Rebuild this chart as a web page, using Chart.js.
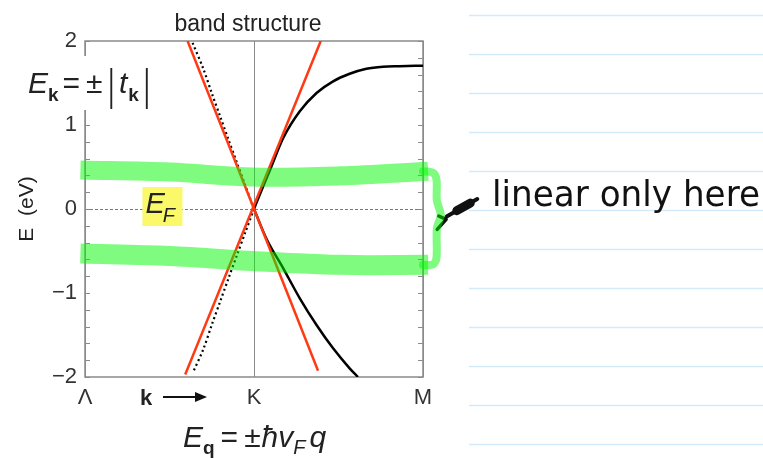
<!DOCTYPE html>
<html>
<head>
<meta charset="UTF-8">
<script src="https://cdn.jsdelivr.net/npm/chart.js@4.4.1/dist/chart.umd.min.js"></script>
<style>
  body { margin: 0; background: #fff; }
</style>
</head>
<body>
<canvas id="myChart" width="763" height="458"></canvas>
<script>
// k path: 0 = Λ, 1 = K, 2 = M ; energies in eV
const kLabels = ['Λ', 'K', 'M'];

// tight-binding bands along K -> M
const kCond = [1.0, 1.04, 1.094, 1.173, 1.271, 1.370, 1.468, 1.566, 1.665, 1.763, 1.861, 2.0];
const eCond = [0, 0.2, 0.46, 0.845, 1.163, 1.381, 1.52, 1.61, 1.67, 1.694, 1.70, 1.706];
const kVal = [1.0, 1.075, 1.173, 1.271, 1.370, 1.468, 1.566, 1.615];
const eVal = [0, -0.36, -0.706, -1.063, -1.381, -1.659, -1.897, -2.0];

// tight-binding bands along K -> Λ (dotted)
const kLeftUp = [1.0, 0.95, 0.9, 0.85, 0.8, 0.75, 0.7, 0.632];
const eLeftUp = [0, 0.27, 0.545, 0.82, 1.10, 1.38, 1.67, 2.0];
const kLeftDn = [1.0, 0.95, 0.9, 0.85, 0.8, 0.75, 0.7, 0.638];
const eLeftDn = [0, -0.27, -0.545, -0.82, -1.10, -1.38, -1.67, -1.95];

// linear Dirac cone
const kDiracA = [0.607, 1.379];
const eDiracA = [2.0, -1.925];
const kDiracB = [0.593, 1.395];
const eDiracB = [-1.97, 2.0];

// hand drawn highlighter + arrow
const hiK = [-0.027, 0.504, 0.994, 1.507, 2.03];
const hiTopE = [0.465, 0.44, 0.38, 0.395, 0.45];
const hiBotE = [-0.53, -0.56, -0.62, -0.665, -0.665];
const bracketK = [2.0, 2.06, 2.08, 2.082, 2.105, 2.082, 2.08, 2.06, 2.0];
const bracketE = [0.45, 0.43, 0.35, 0.1, -0.07, -0.23, -0.58, -0.66, -0.665];
const arrowK = [2.321, 2.14];
const arrowE = [0.119, -0.09];
const arrowBlobK = [2.28, 2.2];
const arrowBlobE = [0.07, -0.02];
const headK = [2.093, 2.137, 2.084];
const headE = [-0.083, -0.123, -0.242];

const pts = (xs, ys) => xs.map((x, i) => ({x: x, y: ys[i]}));

const RED = '#ff3a12';
const GREEN = 'rgba(0,250,0,0.5)';
const FRAME = '#8a8a8a';

function line(xs, ys, color, width, extra) {
    return Object.assign({
        data: pts(xs, ys),
        showLine: true,
        borderColor: color,
        borderWidth: width,
        pointRadius: 0,
        fill: false
    }, extra || {});
}

// draw a list of [text, font, dy, gap] runs side by side
function runs(ctx, x, y, parts) {
    parts.forEach(p => {
        ctx.font = p[1];
        ctx.fillText(p[0], x, y + (p[2] || 0));
        x += ctx.measureText(p[0]).width + (p[3] || 0);
    });
}

const decor = {
    id: 'decor',
    beforeDraw(chart) {
        const ctx = chart.ctx;
        ctx.save();
        ctx.fillStyle = '#fff';
        ctx.fillRect(0, 0, chart.width, chart.height);
        // notebook rules on the right
        ctx.strokeStyle = '#d2eafa';
        ctx.lineWidth = 1.5;
        for (let y = 15.5; y < chart.height; y += 39) {
            ctx.beginPath();
            ctx.moveTo(469, y);
            ctx.lineTo(chart.width, y);
            ctx.stroke();
        }
        ctx.restore();
    },
    beforeDatasetsDraw(chart) {
        const ctx = chart.ctx, a = chart.chartArea;
        const ys = chart.scales.y;
        ctx.save();
        // E = 0 dashed line
        ctx.strokeStyle = '#777';
        ctx.lineWidth = 1;
        ctx.setLineDash([3, 2]);
        const y0 = Math.round(ys.getPixelForValue(0)) + 0.5;
        ctx.beginPath();
        ctx.moveTo(a.left, y0);
        ctx.lineTo(a.right, y0);
        ctx.stroke();
        ctx.setLineDash([]);
        // frame
        ctx.strokeStyle = FRAME;
        ctx.lineWidth = 1.5;
        ctx.strokeRect(a.left, a.top, a.right - a.left, a.bottom - a.top);
        // inward minor ticks on both sides
        ctx.lineWidth = 1;
        ys.ticks.forEach(t => {
            const y = Math.round(ys.getPixelForValue(t.value)) + 0.5;
            ctx.beginPath();
            ctx.moveTo(a.left, y); ctx.lineTo(a.left + 5, y);
            ctx.moveTo(a.right, y); ctx.lineTo(a.right - 5, y);
            ctx.stroke();
        });
        ctx.restore();
    },
    afterDraw(chart) {
        const ctx = chart.ctx;
        const xs = chart.scales.x, ys = chart.scales.y;
        ctx.save();
        ctx.fillStyle = '#222';
        ctx.textBaseline = 'alphabetic';

        // title
        ctx.font = '23px "Liberation Sans", Arial, sans-serif';
        ctx.textAlign = 'center';
        ctx.fillText('band structure', 248, 31);

        // y axis title
        ctx.save();
        ctx.translate(33, 209);
        ctx.rotate(-Math.PI / 2);
        ctx.font = '21px "Liberation Sans", Arial, sans-serif';
        ctx.fillText('E  (eV)', 0, 0);
        ctx.restore();

        ctx.textAlign = 'left';
        // E_k formula on white patch
        ctx.fillStyle = '#fff';
        ctx.fillRect(24, 56, 134, 54);
        ctx.fillStyle = '#222';
        const it = 'italic 30px "Liberation Sans", Arial, sans-serif';
        const rg = '30px "Liberation Sans", Arial, sans-serif';
        const bd = 'bold 19px "Liberation Sans", Arial, sans-serif';
        const bar = '300 40px "DejaVu Sans", sans-serif';
        runs(ctx, 28, 93, [['E', it], ['k', bd, 8, 4], ['=', rg, 0, 6], ['±', rg, 0, 2],
            ['|', bar, 6, 1], ['t', it, 0, 1], ['k', bd, 8, 1], ['|', bar, 6]]);

        // E_q formula below the axis
        runs(ctx, 183, 447, [['E', it], ['q', bd, 7, 6], ['=', rg, 0, 6], ['±', rg, 0, 1],
            ['ħ', it], ['v', it], ['F', 'italic 20px "Liberation Sans", Arial, sans-serif', 7, 4], ['q', it]]);

        // k arrow
        ctx.font = 'bold 22px "Liberation Sans", Arial, sans-serif';
        ctx.fillText('k', 140, 405);
        ctx.strokeStyle = '#111';
        ctx.lineWidth = 2;
        ctx.beginPath();
        ctx.moveTo(163, 397); ctx.lineTo(200, 397);
        ctx.stroke();
        ctx.beginPath();
        ctx.moveTo(207, 397); ctx.lineTo(195, 392); ctx.lineTo(195, 402); ctx.closePath();
        ctx.fillStyle = '#111';
        ctx.fill();

        // E_F tag
        const xF = xs.getPixelForValue(0.34), yF = ys.getPixelForValue(0);
        ctx.fillStyle = '#fbf96a';
        ctx.fillRect(xF, yF - 22, 40, 39);
        ctx.fillStyle = '#222';
        runs(ctx, xF + 3, yF + 4, [['E', 'italic 29px "Liberation Sans", Arial, sans-serif', 0, -2],
            ['F', 'italic 20px "Liberation Sans", Arial, sans-serif', 9]]);

        // handwriting note
        ctx.font = '31px "DejaVu Sans", sans-serif';
        const txt = 'linear only here';
        const w = ctx.measureText(txt).width;
        ctx.translate(492, 206);
        ctx.scale(268 / w, 1.15);
        ctx.fillStyle = '#111';
        ctx.fillText(txt, 0, 0);
        ctx.restore();
    }
};

const ctx = document.getElementById('myChart').getContext('2d');
const chart = new Chart(ctx, {
    type: 'scatter',
    data: {
        datasets: [
            line(hiK, hiTopE, GREEN, 19, {clip: false, order: 0, tension: 0.35, borderCapStyle: 'butt'}),
            line(hiK, hiBotE, GREEN, 20, {clip: false, order: 0, tension: 0.35, borderCapStyle: 'butt'}),
            line(bracketK, bracketE, GREEN, 8, {clip: false, order: 0, tension: 0.3, borderCapStyle: 'round', borderJoinStyle: 'round'}),
            line(arrowK, arrowE, '#111', 4, {clip: false, order: 0, borderCapStyle: 'round'}),
            line(arrowBlobK, arrowBlobE, '#111', 9, {clip: false, order: 0, borderCapStyle: 'round'}),
            line(headK, headE, '#111', 3.5, {clip: false, order: 0, borderCapStyle: 'round', borderJoinStyle: 'round'}),
            line(kDiracA, eDiracA, RED, 2.5, {order: 1}),
            line(kDiracB, eDiracB, RED, 2.5, {order: 1}),
            line(kCond, eCond, '#000', 2.5, {order: 2, cubicInterpolationMode: 'monotone'}),
            line(kVal, eVal, '#000', 2.5, {order: 2, cubicInterpolationMode: 'monotone'}),
            line(kLeftUp, eLeftUp, '#000', 2.2, {order: 2, borderDash: [2, 3], tension: 0.3}),
            line(kLeftDn, eLeftDn, '#000', 2.2, {order: 2, borderDash: [2, 3], tension: 0.3})
        ]
    },
    options: {
        responsive: false,
        animation: false,
        layout: { padding: { top: 41, right: 340, left: 0, bottom: 0 } },
        plugins: { legend: { display: false }, tooltip: { enabled: false } },
        scales: {
            x: {
                type: 'linear', min: 0, max: 2,
                afterFit: s => { s.height = 81; },
                border: { display: false },
                grid: { color: FRAME, lineWidth: 1, drawTicks: false },
                ticks: {
                    stepSize: 1, padding: 8, color: '#333',
                    font: { size: 22, family: '"Liberation Sans", Arial, sans-serif' },
                    callback: v => kLabels[Math.round(v)]
                }
            },
            y: {
                min: -2, max: 2,
                afterFit: s => { s.width = 85; },
                border: { display: false },
                grid: { drawOnChartArea: false, drawTicks: false },
                ticks: {
                    stepSize: 0.2, autoSkip: false, padding: 8, color: '#333',
                    font: { size: 22, family: '"Liberation Sans", Arial, sans-serif' },
                    callback: v => {
                        const r = Math.round(v);
                        if (Math.abs(v - r) > 1e-6) return '';
                        return r < 0 ? '\u2212' + Math.abs(r) : String(r);
                    }
                }
            }
        }
    },
    plugins: [decor]
});
</script>
</body>
</html>
